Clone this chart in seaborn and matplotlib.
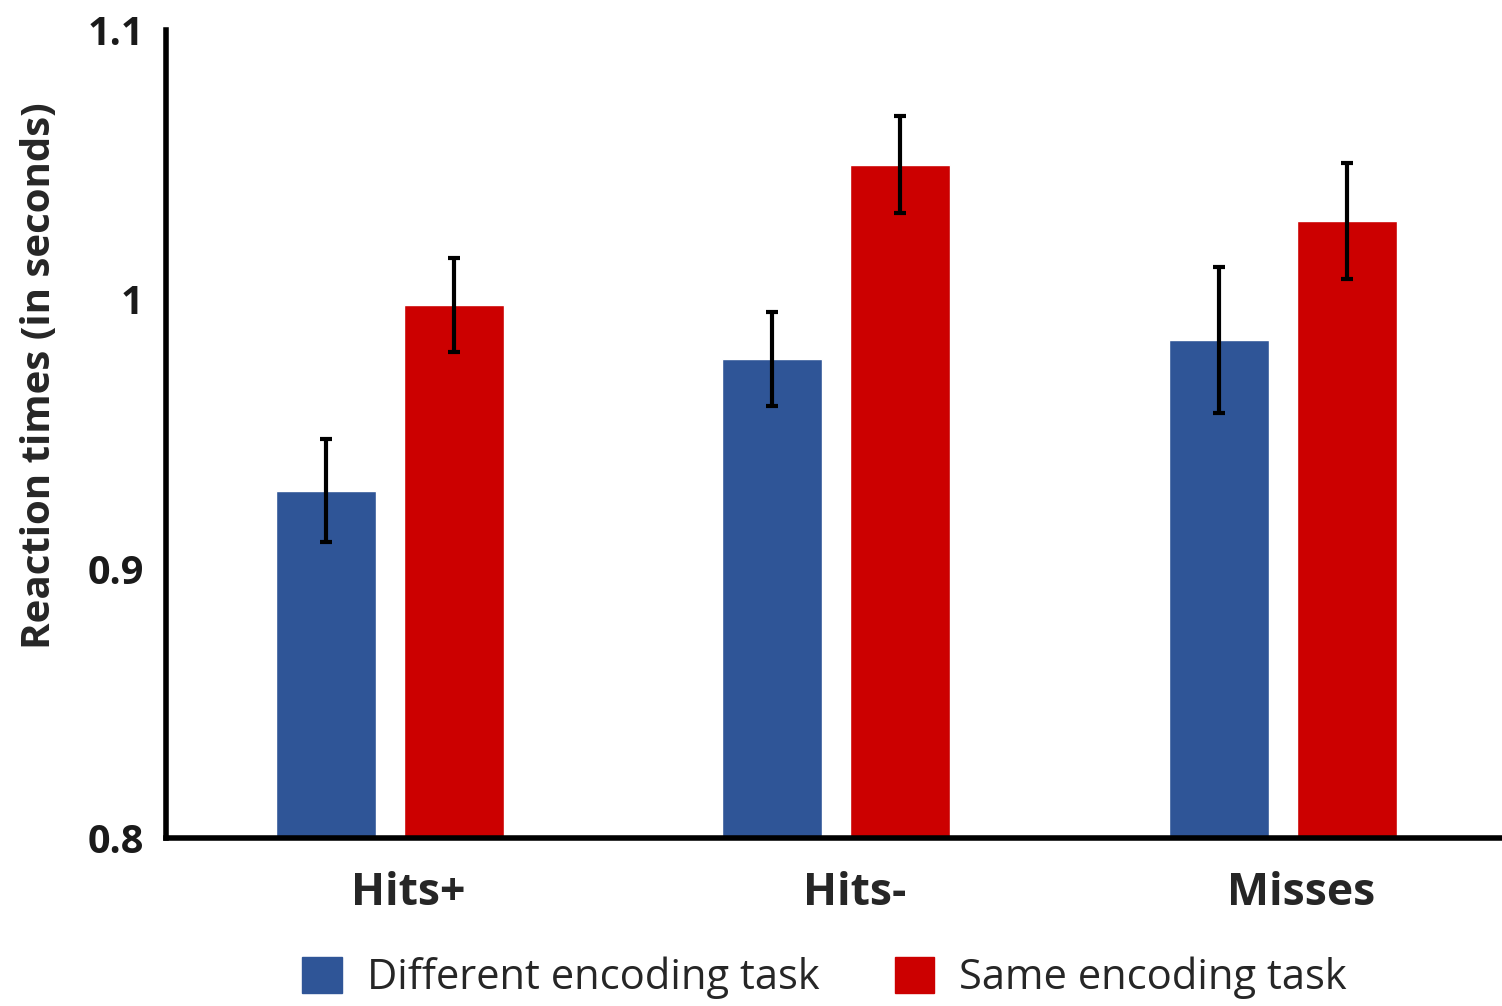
import matplotlib
matplotlib.use('Agg')
import matplotlib.pyplot as plt
import matplotlib.transforms as mtransforms
import pandas as pd
import seaborn as sns

# valores
categorias = ['Hits+', 'Hits-', 'Misses']
condiciones = ['Different encoding task', 'Same encoding task']
rt_diferente = [0.929, 0.978, 0.985]
rt_igual = [0.998, 1.050, 1.029]
err_diferente = [0.019, 0.0175, 0.027]
err_igual = [0.0175, 0.018, 0.0215]
colores = ['#2F5597', '#CC0000']
yticks = [0.8, 0.9, 1.0, 1.1]
ytick_labels = ['0.8', '0.9', '1', '1.1']

sns.set_style('white')
plt.rcParams['font.family'] = ['Open Sans', 'DejaVu Sans']

df = pd.DataFrame({
    'categoria': categorias * 2,
    'rt': rt_diferente + rt_igual,
    'condicion': [condiciones[0]] * 3 + [condiciones[1]] * 3,
})

fig = plt.figure(figsize=(15.02, 10.06), dpi=100)
ax = fig.add_axes([0.1105, 0.167, 0.888, 0.803])

sns.barplot(data=df, x='categoria', y='rt', hue='condicion', order=categorias,
            hue_order=condiciones, palette=colores, width=0.573, gap=0.218,
            errorbar=None, saturation=1, ax=ax)

# barras de error encima de cada barra
for container, errs in zip(ax.containers, [err_diferente, err_igual]):
    xs = [p.get_x() + p.get_width() / 2 for p in container]
    ys = [p.get_height() for p in container]
    ax.errorbar(xs, ys, yerr=errs, fmt='none', ecolor='black',
                elinewidth=3, capsize=4, capthick=3, zorder=5)

ax.set_ylim(0.8, 1.1)
ax.set_xlim(-0.502, 2.486)
ax.set_yticks(yticks)
ax.set_yticklabels(ytick_labels, fontsize=28.5, fontweight='bold', color='#1a1a1a')
ax.tick_params(axis='y', length=0, pad=16)
ax.tick_params(axis='x', length=0, pad=24, labelsize=32)
for lbl in ax.get_xticklabels():
    lbl.set_fontweight('bold')
    lbl.set_transform(lbl.get_transform() + mtransforms.ScaledTranslation(0.18, 0, fig.dpi_scale_trans))

ax.set_xlabel('')
ax.set_ylabel('Reaction times (in seconds)', fontsize=29, fontweight='bold')
ax.yaxis.set_label_coords(-0.080, 0.572)

for s in ['top', 'right']:
    ax.spines[s].set_visible(False)
for s in ['left', 'bottom']:
    ax.spines[s].set_linewidth(4)
    ax.spines[s].set_color('black')

ax.get_legend().remove()
handles = [plt.Rectangle((0, 0), 1, 1, color=c) for c in colores]
fig.legend(handles, condiciones, loc='center', bbox_to_anchor=(0.549, 0.028),
           ncol=2, frameon=False, fontsize=30, handlelength=0.95, handleheight=0.95,
           handletextpad=0.6, columnspacing=1.8, borderpad=0)

plt.savefig('out.png', dpi=100)
